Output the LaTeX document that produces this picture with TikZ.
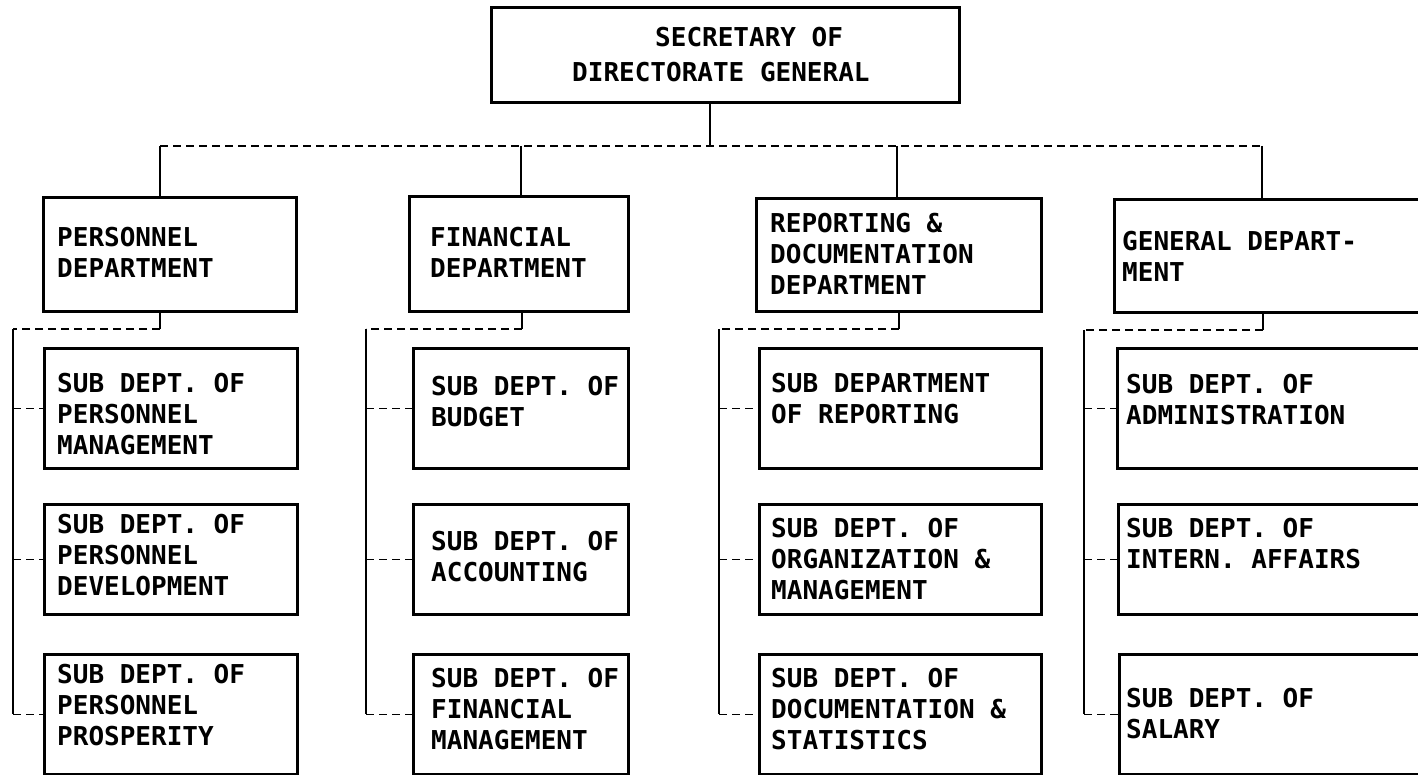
\documentclass[tikz,border=0pt]{standalone}
\usepackage{fontspec}
\newfontfamily\orgfont{DejaVu Sans Mono}
\begin{document}
\begin{tikzpicture}[x=1pt,y=-1pt,
  box/.style={draw, line width=2.8pt, inner sep=0pt, anchor=north west},
  txt/.style={font=\orgfont\bfseries\fontsize{26}{31}\selectfont, align=left, anchor=base west, inner sep=0pt},
  vline/.style={line width=2.8pt},
  hline/.style={line width=1.4pt, dash pattern=on 8pt off 5pt}]
\useasboundingbox (0,0) rectangle (1418,775);
\fill[white] (0,0) rectangle (1418,775);
\clip (0,0) rectangle (1418,775);

% top box (text nodes anchored at the baseline of their last line)
\node[box, minimum width=468pt, minimum height=95pt] (top) at (490,6) {};
\node[txt, font=\orgfont\bfseries\fontsize{26}{35}\selectfont] (topt) at (572,82) {\hspace*{83pt}SECRETARY OF\\DIRECTORATE GENERAL};

% department boxes
\node[box, minimum width=253pt, minimum height=114pt] (pers) at (42,196) {};
\node[box, minimum width=219pt, minimum height=115pt] (fin) at (408,195) {};
\node[box, minimum width=285pt, minimum height=113pt] (rep) at (755,197) {};
\node[box, minimum width=330pt, minimum height=113pt] (gen) at (1113,198) {};

\node[txt] (perst) at (57,278) {PERSONNEL\\DEPARTMENT};
\node[txt] (fint) at (430,278) {FINANCIAL\\DEPARTMENT};
\node[txt] (rept) at (770,295) {REPORTING \&\\DOCUMENTATION\\DEPARTMENT};
\node[txt] (gent) at (1122,282) {GENERAL DEPART-\\MENT};

% sub boxes: personnel
\node[box, minimum width=253pt, minimum height=120pt] (ps1) at (43,347) {};
\node[box, minimum width=253pt, minimum height=110pt] (ps2) at (43,503) {};
\node[box, minimum width=253pt, minimum height=120pt] (ps3) at (43,653) {};
\node[txt] (ps1t) at (57,454) {SUB DEPT. OF\\PERSONNEL\\MANAGEMENT};
\node[txt] (ps2t) at (57,595) {SUB DEPT. OF\\PERSONNEL\\DEVELOPMENT};
\node[txt] (ps3t) at (57,745) {SUB DEPT. OF\\PERSONNEL\\PROSPERITY};

% sub boxes: financial
\node[box, minimum width=215pt, minimum height=120pt] (fs1) at (412,347) {};
\node[box, minimum width=215pt, minimum height=110pt] (fs2) at (412,503) {};
\node[box, minimum width=215pt, minimum height=120pt] (fs3) at (412,653) {};
\node[txt] (fs1t) at (431,426) {SUB DEPT. OF\\BUDGET};
\node[txt] (fs2t) at (431,581) {SUB DEPT. OF\\ACCOUNTING};
\node[txt] (fs3t) at (431,749) {SUB DEPT. OF\\FINANCIAL\\MANAGEMENT};

% sub boxes: reporting
\node[box, minimum width=282pt, minimum height=120pt] (rs1) at (758,347) {};
\node[box, minimum width=282pt, minimum height=110pt] (rs2) at (758,503) {};
\node[box, minimum width=282pt, minimum height=120pt] (rs3) at (758,653) {};
\node[txt] (rs1t) at (771,423) {SUB DEPARTMENT\\OF REPORTING};
\node[txt] (rs2t) at (771,599) {SUB DEPT. OF\\ORGANIZATION \&\\MANAGEMENT};
\node[txt] (rs3t) at (771,749) {SUB DEPT. OF\\DOCUMENTATION \&\\STATISTICS};

% sub boxes: general
\node[box, minimum width=330pt, minimum height=120pt] (gs1) at (1116,347) {};
\node[box, minimum width=330pt, minimum height=110pt] (gs2) at (1117,503) {};
\node[box, minimum width=330pt, minimum height=120pt] (gs3) at (1118,653) {};
\node[txt] (gs1t) at (1126,424) {SUB DEPT. OF\\ADMINISTRATION};
\node[txt] (gs2t) at (1126,568) {SUB DEPT. OF\\INTERN. AFFAIRS};
\node[txt] (gs3t) at (1126,738) {SUB DEPT. OF\\SALARY};

% bus
\coordinate (busL) at (160,146);
\coordinate (busR) at (1262,146);
\coordinate (jTop) at (710,146);
\coordinate (jFin) at (521,146);
\coordinate (jRep) at (897,146);
\draw[hline] (busL) -- (busR);
\draw[vline] (top.south -| jTop) -- (jTop);
\draw[vline] (busL) -- (pers.north -| busL);
\draw[vline] (jFin) -- (fin.north -| jFin);
\draw[vline] (jRep) -- (rep.north -| jRep);
\draw[vline] (busR) -- (gen.north -| busR);

% personnel branch
\coordinate (pJ) at (160,329);
\coordinate (pL) at (13,329);
\draw[vline] (pers.south -| pJ) -- (pJ);
\draw[hline] (pJ) -- (pL);
\draw[vline] (pL) -- (pL |- ps3.west);
\draw[hline] (pL |- ps1.west) -- (ps1.west);
\draw[hline] (pL |- ps2.west) -- (ps2.west);
\draw[hline] (pL |- ps3.west) -- (ps3.west);

% financial branch
\coordinate (fJ) at (522,329);
\coordinate (fL) at (366,329);
\draw[vline] (fin.south -| fJ) -- (fJ);
\draw[hline] (fJ) -- (fL);
\draw[vline] (fL) -- (fL |- fs3.west);
\draw[hline] (fL |- fs1.west) -- (fs1.west);
\draw[hline] (fL |- fs2.west) -- (fs2.west);
\draw[hline] (fL |- fs3.west) -- (fs3.west);

% reporting branch
\coordinate (rJ) at (899,329);
\coordinate (rL) at (719,329);
\draw[vline] (rep.south -| rJ) -- (rJ);
\draw[hline] (rJ) -- (rL);
\draw[vline] (rL) -- (rL |- rs3.west);
\draw[hline] (rL |- rs1.west) -- (rs1.west);
\draw[hline] (rL |- rs2.west) -- (rs2.west);
\draw[hline] (rL |- rs3.west) -- (rs3.west);

% general branch
\coordinate (gJ) at (1263,330);
\coordinate (gL) at (1084,330);
\draw[vline] (gen.south -| gJ) -- (gJ);
\draw[hline] (gJ) -- (gL);
\draw[vline] (gL) -- (gL |- gs3.west);
\draw[hline] (gL |- gs1.west) -- (gs1.west);
\draw[hline] (gL |- gs2.west) -- (gs2.west);
\draw[hline] (gL |- gs3.west) -- (gs3.west);
\end{tikzpicture}
\end{document}
